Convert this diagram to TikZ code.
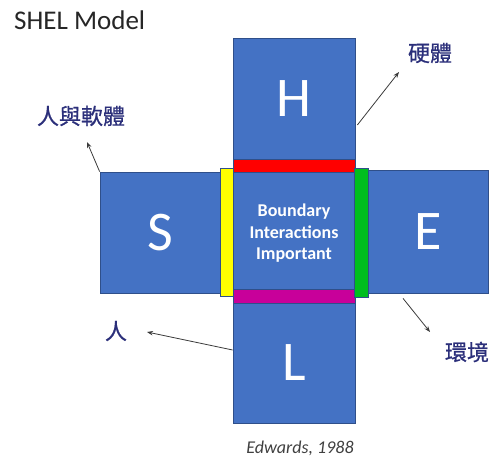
\documentclass[tikz,border=0pt]{standalone}
\usepackage{fontspec}
\setmainfont{Carlito}
\newfontfamily\cjk{Noto Sans CJK TC}[FakeBold=0.8]
\usetikzlibrary{arrows.meta}
\definecolor{boxblue}{HTML}{4472C4}
\definecolor{boxedge}{HTML}{2F4F8A}
\definecolor{labnavy}{HTML}{2B2F7A}
\definecolor{barred}{HTML}{FF0000}
\definecolor{baryellow}{HTML}{FFFF00}
\definecolor{bargreen}{HTML}{00BE1E}
\definecolor{barmagenta}{HTML}{C8009A}
\definecolor{arrgray}{HTML}{3A3A3A}
\tikzset{
  box/.style={draw=boxedge, line width=0.7pt, fill=boxblue, inner sep=0pt,
    text=white, font=\fontsize{56}{60}\selectfont},
  bar/.style={draw=boxedge, line width=0.6pt, inner sep=0pt},
  cjklab/.style={text=labnavy, font=\cjk\fontsize{22}{26}\selectfont, inner sep=0pt},
  arr/.style={draw=arrgray, line width=0.8pt, -{Stealth[length=6pt,width=4.5pt]}},
}
\begin{document}
\begin{tikzpicture}[x=1pt,y=-1pt]
\useasboundingbox (0,0) rectangle (494,457);
% title
\node[anchor=west, font=\fontsize{27}{30}\selectfont, text=black!85, inner sep=0pt] (title) at (14,20) {SHEL Model};
% the four outer blocks and the centre block
\node[box, minimum width=122pt, minimum height=121pt] (H) at (294,98.5) {H};
\node[box, minimum width=120pt, minimum height=121pt] (S) at (160,232.5) {S};
\node[box, minimum width=120pt, minimum height=123pt] (E) at (428,231.5) {E};
\node[box, minimum width=122pt, minimum height=120pt] (L) at (294,363) {L};
\node[box, minimum width=122pt, minimum height=118pt] (C) at (294,230.5) {};
\node[text=white, inner sep=0pt, font=\fontsize{18}{21.5}\selectfont\bfseries, align=center] (Ctext) at ([yshift=-3pt]C.center) {Boundary\\Interactions\\Important};
% boundary bars
\node[bar, fill=barred, minimum width=122pt, minimum height=13pt] (top) at (294,165.5) {};
\node[bar, fill=barmagenta, minimum width=122pt, minimum height=14pt] (bot) at (294,296) {};
\node[bar, fill=baryellow, minimum width=13pt, minimum height=128pt] (left) at (226.5,232) {};
\node[bar, fill=bargreen, minimum width=14pt, minimum height=129pt] (right) at (361,232.5) {};
% labels
\node[cjklab] (hw) at (430,53) {硬體};
\node[cjklab] (lsw) at (81,116) {人與軟體};
\node[cjklab] (lp) at (116,331) {人};
\node[cjklab] (env) at (467,352) {環境};
% arrow tips
\coordinate (hwtip) at (399,72);
\coordinate (lswtip) at (87,142);
\coordinate (lptip) at (147,332);
\coordinate (envtip) at (430,332);
\draw[arr] ([shift={(2pt,-26.5pt)}]H.east) -- (hwtip);
\draw[arr] (S.north west) -- (lswtip);
\draw[arr] ([yshift=13pt]L.west) -- (lptip);
\draw[arr] ([shift={(-25pt,-5pt)}]E.south) -- (envtip);
% source
\node[font=\fontsize{18}{20}\selectfont\itshape, text=black!75, inner sep=0pt] (src) at (300,448) {Edwards, 1988};
\end{tikzpicture}
\end{document}
